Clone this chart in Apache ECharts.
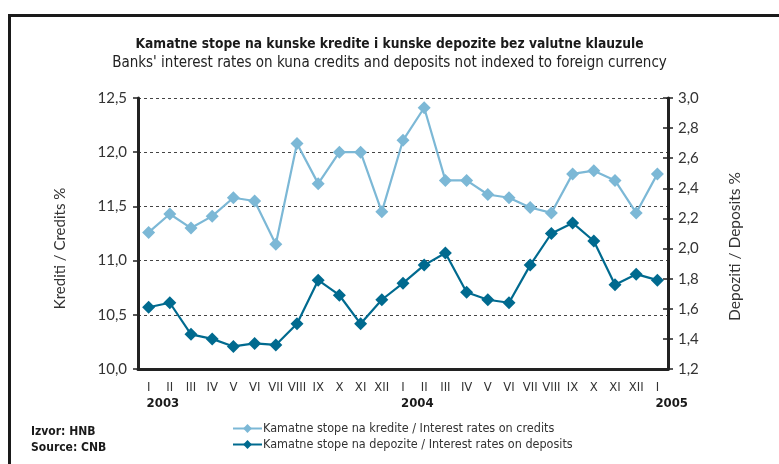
<!DOCTYPE html>
<html>
<head>
<meta charset="utf-8">
<script src="https://cdn.jsdelivr.net/npm/echarts@6/dist/echarts.min.js"></script>
<style>
  html, body { margin: 0; padding: 0; background: #fff; }
  #chart { width: 779px; height: 464px; }
</style>
</head>
<body>
<div id="chart"></div>
<script>
// months Jan 2003 - Jan 2005
const months = ['I', 'II', 'III', 'IV', 'V', 'VI', 'VII', 'VIII', 'IX', 'X', 'XI', 'XII',
    'I', 'II', 'III', 'IV', 'V', 'VI', 'VII', 'VIII', 'IX', 'X', 'XI', 'XII', 'I']
const years = ['2003', '', '', '', '', '', '', '', '', '', '', '',
    '2004', '', '', '', '', '', '', '', '', '', '', '', '2005']

// left axis (%)
const credits = [11.26, 11.43, 11.30, 11.41, 11.58, 11.55, 11.15, 12.08, 11.71, 12.00, 12.00, 11.45,
    12.11, 12.41, 11.74, 11.74, 11.61, 11.58, 11.49, 11.44, 11.80, 11.83, 11.74, 11.44, 11.80]
// right axis (%)
const deposits = [1.61, 1.64, 1.43, 1.40, 1.35, 1.37, 1.36, 1.50, 1.79, 1.69, 1.50, 1.66,
    1.77, 1.89, 1.97, 1.71, 1.66, 1.64, 1.89, 2.10, 2.17, 2.05, 1.76, 1.83, 1.79]

const creditsName = 'Kamatne stope na kredite / Interest rates on credits'
const depositsName = 'Kamatne stope na depozite / Interest rates on deposits'

const axisColor = '#222'
const textColor = '#333'
const numFont = 'Lato, sans-serif'
const narrowFont = '"Liberation Sans Narrow", "DejaVu Sans Condensed", sans-serif'

const comma = v => v.toFixed(1).replace('.', ',')

const chart = echarts.init(document.getElementById('chart'))

chart.setOption({
    backgroundColor: '#fff',
    animation: false,
    graphic: [{
        type: 'rect',
        z: -10,
        shape: { x: 9.5, y: 15.5, width: 800, height: 500 },
        style: { fill: 'none', stroke: '#1a1a1a', lineWidth: 3 },
    }],
    title: [{
        text: 'Kamatne stope na kunske kredite i kunske depozite bez valutne klauzule',
        subtext: 'Banks\' interest rates on kuna credits and deposits not indexed to foreign currency',
        left: 'center',
        top: 32,
        itemGap: 5,
        textStyle: { fontFamily: narrowFont, fontSize: 13.7, fontWeight: 'bold', color: '#1a1a1a' },
        subtextStyle: { fontFamily: narrowFont, fontSize: 15, color: '#222' },
    }, {
        text: 'Izvor: HNB\nSource: CNB',
        left: 26,
        top: 419,
        textStyle: { fontFamily: narrowFont, fontSize: 12, fontWeight: 'bold', color: '#1a1a1a', lineHeight: 16 },
    }],
    legend: {
        orient: 'vertical',
        left: 227,
        top: 417,
        itemWidth: 29,
        itemHeight: 11,
        itemGap: 3,
        textStyle: { fontFamily: narrowFont, fontSize: 12.5, color: textColor, padding: [0, 0, 0, -4] },
        data: [creditsName, depositsName],
    },
    grid: { left: 138, right: 111, top: 98, bottom: 95 },
    xAxis: [{
        type: 'category',
        data: months,
        boundaryGap: true,
        axisLine: { lineStyle: { color: axisColor, width: 3 } },
        axisTick: { interval: 0, length: 5, lineStyle: { color: axisColor, width: 1.5 } },
        axisLabel: { interval: 0, margin: 12, fontFamily: narrowFont, fontSize: 13, color: textColor },
    }, {
        type: 'category',
        data: years,
        position: 'bottom',
        boundaryGap: true,
        axisLine: { show: false },
        axisTick: { interval: 0, inside: true, length: 5, lineStyle: { color: axisColor, width: 1.5 } },
        axisLabel: {
            interval: 0, margin: 28, align: 'left', padding: [0, 0, 0, -2],
            fontFamily: narrowFont, fontSize: 13, fontWeight: 'bold', color: '#1a1a1a',
        },
    }],
    yAxis: [{
        type: 'value',
        min: 10,
        max: 12.5,
        interval: 0.5,
        name: 'Krediti / Credits %',
        nameLocation: 'middle',
        nameRotate: 90,
        nameGap: 70,
        nameTextStyle: { fontFamily: numFont, fontSize: 15, color: textColor, padding: [0, 30, 0, 0] },
        axisLine: { show: true, lineStyle: { color: axisColor, width: 3 } },
        axisTick: { show: true, length: 5, lineStyle: { color: axisColor, width: 1.5 } },
        axisLabel: { margin: 11, fontFamily: numFont, fontSize: 15, color: textColor, formatter: comma },
        splitLine: { lineStyle: { color: '#444', width: 1, type: [3, 3] } },
    }, {
        type: 'value',
        position: 'right',
        min: 1.2,
        max: 3.0,
        interval: 0.2,
        name: 'Depoziti / Deposits %',
        nameLocation: 'middle',
        nameRotate: 90,
        nameGap: 59,
        nameTextStyle: { fontFamily: numFont, fontSize: 15.5, color: textColor, padding: [0, 26, 0, 0] },
        axisLine: { show: true, lineStyle: { color: axisColor, width: 3 } },
        axisTick: { show: true, length: 5, lineStyle: { color: axisColor, width: 1.5 } },
        axisLabel: { margin: 10, fontFamily: numFont, fontSize: 15, color: textColor, formatter: comma },
        splitLine: { show: false },
    }, {
        type: 'value',
        position: 'right',
        min: 1.2,
        max: 3.0,
        interval: 0.2,
        axisLine: { show: false },
        axisTick: { show: true, inside: true, length: 5, lineStyle: { color: axisColor, width: 1.5 } },
        axisLabel: { show: false },
        splitLine: { show: false },
    }],
    series: [{
        name: creditsName,
        type: 'line',
        yAxisIndex: 0,
        data: credits,
        symbol: 'diamond',
        symbolSize: 13,
        lineStyle: { width: 2.2, color: '#7cb8d6' },
        itemStyle: { color: '#7cb8d6' },
        z: 3,
    }, {
        name: depositsName,
        type: 'line',
        yAxisIndex: 1,
        data: deposits,
        symbol: 'diamond',
        symbolSize: 13,
        lineStyle: { width: 2.2, color: '#006a8f' },
        itemStyle: { color: '#006a8f' },
        z: 4,
    }],
})
</script>
</body>
</html>
